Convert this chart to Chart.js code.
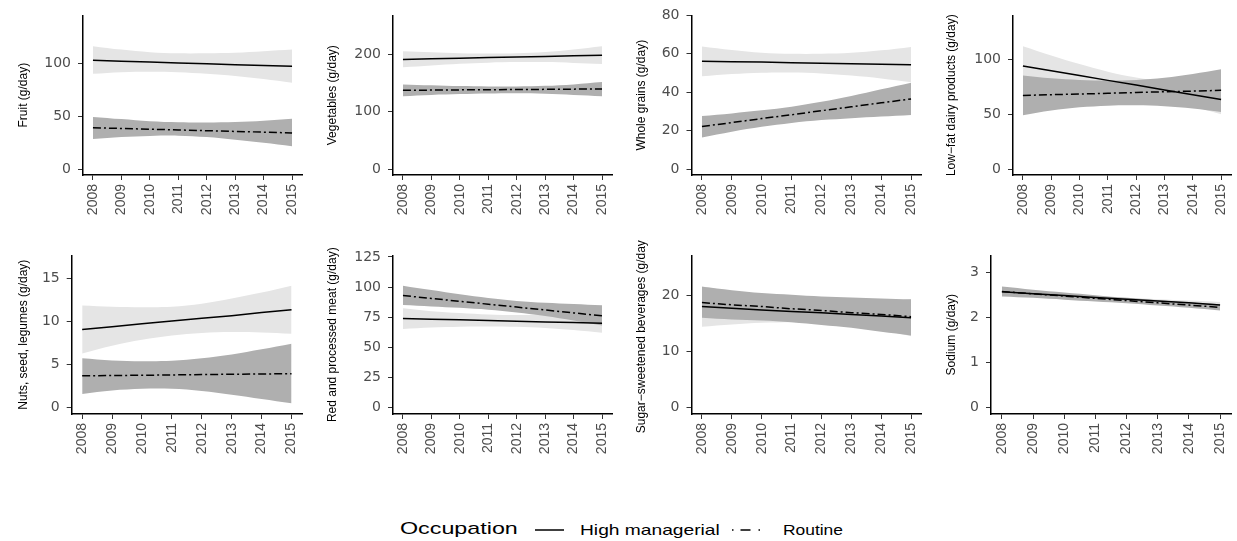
<!DOCTYPE html>
<html><head><meta charset="utf-8">
<script src="https://cdn.jsdelivr.net/npm/chart.js@4/dist/chart.umd.min.js"></script>
<style>
html,body{margin:0;padding:0;width:1237px;height:541px;overflow:hidden;background:#fff;position:relative}
canvas{position:absolute}
.lg{position:absolute;font-family:"Liberation Sans",Arial,sans-serif;color:#000;white-space:nowrap;transform-origin:0 50%;line-height:1}
svg{position:absolute}
</style></head><body>
<div class="lg" id="lgTitle" style="left:400px;top:520px;font-size:17px;transform:scaleX(1.37)">Occupation</div>
<svg style="left:534px;top:524px" width="32" height="12"><line x1="1" y1="6" x2="30" y2="6" stroke="#000" stroke-width="1.5"/></svg>
<div class="lg" style="left:580px;top:522px;font-size:15px;transform:scaleX(1.28)">High managerial</div>
<svg style="left:731px;top:524px" width="34" height="12"><line x1="1" y1="6" x2="33" y2="6" stroke="#000" stroke-width="1.5" stroke-dasharray="1.5 7 10 8 1.5 40"/></svg>
<div class="lg" style="left:783px;top:522px;font-size:15px;transform:scaleX(1.16)">Routine</div>
<script>
const years = [2008, 2009, 2010, 2011, 2012, 2013, 2014, 2015];

// Fruit
const fruitTicks = [0, 50, 100];
const fruitHigh = [103.3, 102.5, 101.7, 100.9, 100.0, 99.2, 98.4, 97.6];
const fruitHighLower = [90.5, 92, 92.5, 92, 90.5, 88.5, 85.5, 82];
const fruitHighUpper = [116.8, 113.5, 111, 110, 110, 110.5, 112, 113.6];
const fruitRoutine = [39.3, 38.6, 37.9, 37.2, 36.5, 35.8, 35.1, 34.4];
const fruitRoutineLower = [28.7, 30.5, 31.5, 31.8, 30.5, 28, 25, 21.8];
const fruitRoutineUpper = [49.6, 47.5, 45.5, 44.5, 44.3, 44.8, 46, 47.8];

// Vegetables
const vegTicks = [0, 100, 200];
const vegHigh = [191.6, 192.7, 193.7, 194.8, 195.8, 196.9, 197.9, 199];
const vegHighLower = [177.8, 181, 184, 186, 187, 187, 185.5, 183.6];
const vegHighUpper = [206, 204, 202.5, 202, 202.5, 204.5, 209, 214.6];
const vegRoutine = [137.7, 138, 138.4, 138.7, 139, 139.3, 139.7, 140];
const vegRoutineLower = [127.4, 129.5, 131, 132, 132.5, 131.5, 129.5, 127.4];
const vegRoutineUpper = [148, 146.5, 145, 144.5, 144.5, 145.5, 148, 152];

// Whole grains
const grainTicks = [0, 20, 40, 60, 80];
const grainHigh = [56.2, 55.9, 55.7, 55.4, 55.1, 54.8, 54.6, 54.3];
const grainHighLower = [48.3, 49.5, 50.2, 50.3, 49.8, 48.7, 47.2, 45.2];
const grainHighUpper = [63.8, 62, 60.6, 60, 60, 60.5, 61.8, 63.6];
const grainRoutine = [22.2, 24.2, 26.3, 28.3, 30.4, 32.4, 34.5, 36.5];
const grainRoutineLower = [16.5, 19.5, 22, 24, 25.5, 26.5, 27.4, 28.2];
const grainRoutineUpper = [27.6, 29, 30.6, 32.5, 35, 38, 41.5, 45];

// Low-fat dairy
const dairyTicks = [0, 50, 100];
const dairyHigh = [94.3, 89.9, 85.5, 81.1, 76.8, 72.4, 68, 63.7];
const dairyHighLower = [76.3, 75.9, 75, 73.1, 69.8, 64.4, 57.5, 50.2];
const dairyHighUpper = [112.3, 103.9, 96, 89.1, 83.8, 80.4, 78.5, 77.2];
const dairyRoutine = [67.3, 68, 68.6, 69.3, 70, 70.7, 71.3, 72];
const dairyRoutineLower = [49.3, 53.5, 56.5, 58, 58.3, 57.5, 55.5, 52.3];
const dairyRoutineUpper = [85.6, 83, 81.5, 81, 81.5, 83.5, 87, 91.3];

// Nuts, seed, legumes
const nutsTicks = [0, 5, 10, 15];
const nutsHigh = [9.1, 9.43, 9.76, 10.1, 10.4, 10.7, 11.07, 11.4];
const nutsHighLower = [6.3, 7.2, 7.9, 8.4, 8.7, 8.8, 8.75, 8.6];
const nutsHighUpper = [11.9, 11.75, 11.7, 11.75, 12.1, 12.7, 13.4, 14.2];
const nutsRoutine = [3.7, 3.74, 3.77, 3.81, 3.85, 3.89, 3.92, 3.96];
const nutsRoutineLower = [1.6, 2.0, 2.2, 2.2, 1.95, 1.5, 1.0, 0.5];
const nutsRoutineUpper = [5.75, 5.5, 5.4, 5.45, 5.75, 6.2, 6.8, 7.45];

// Red and processed meat
const meatTicks = [0, 25, 50, 75, 100, 125];
const meatHigh = [74, 73.4, 72.9, 72.3, 71.7, 71.1, 70.6, 70];
const meatHighLower = [65.3, 66.5, 67.2, 67.3, 67, 66, 64.3, 62.1];
const meatHighUpper = [82.4, 80, 78.5, 77.3, 76.8, 77, 77.8, 78.5];
const meatRoutine = [93, 90.6, 88.2, 85.8, 83.4, 81, 78.6, 76.2];
const meatRoutineLower = [85.2, 84, 82.8, 81.2, 79, 76, 72.3, 68.1];
const meatRoutineUpper = [101.2, 97.5, 94, 91, 88.5, 87, 86, 84.9];

// Sugar-sweetened beverages
const ssbTicks = [0, 10, 20];
const ssbHigh = [18, 17.7, 17.4, 17.1, 16.9, 16.6, 16.3, 16.0];
const ssbHighLower = [14.4, 14.8, 15.1, 15.2, 15.1, 14.6, 13.8, 12.7];
const ssbHighUpper = [21.6, 20.6, 19.7, 19.0, 18.7, 18.6, 18.8, 19.3];
const ssbRoutine = [18.7, 18.3, 18, 17.6, 17.3, 16.9, 16.6, 16.2];
const ssbRoutineLower = [16.0, 15.7, 15.5, 15.2, 14.7, 14.2, 13.5, 12.85];
const ssbRoutineUpper = [21.5, 20.9, 20.4, 20.1, 19.8, 19.6, 19.45, 19.3];

// Sodium
const sodiumTicks = [0, 1, 2, 3];
const sodiumHigh = [2.565, 2.52, 2.48, 2.44, 2.4, 2.36, 2.32, 2.275];
const sodiumHighLower = [2.50, 2.47, 2.44, 2.41, 2.37, 2.32, 2.27, 2.21];
const sodiumHighUpper = [2.63, 2.57, 2.52, 2.47, 2.43, 2.40, 2.37, 2.34];
const sodiumRoutine = [2.57, 2.52, 2.47, 2.42, 2.37, 2.32, 2.27, 2.22];
const sodiumRoutineLower = [2.46, 2.43, 2.39, 2.35, 2.31, 2.26, 2.21, 2.15];
const sodiumRoutineUpper = [2.68, 2.61, 2.55, 2.49, 2.43, 2.38, 2.33, 2.29];

const panels = [
  {title: 'Fruit (g/day)', ticks: fruitTicks, min: -5.6, max: 146, high: fruitHigh, highLower: fruitHighLower, highUpper: fruitHighUpper, routine: fruitRoutine, routineLower: fruitRoutineLower, routineUpper: fruitRoutineUpper, cx: 0, cy: 0, axisX: 83, right: 302},
  {title: 'Vegetables (g/day)', ticks: vegTicks, min: -10.3, max: 268.5, high: vegHigh, highLower: vegHighLower, highUpper: vegHighUpper, routine: vegRoutine, routineLower: vegRoutineLower, routineUpper: vegRoutineUpper, cx: 309, cy: 0, axisX: 393, right: 612},
  {title: 'Whole grains (g/day)', ticks: grainTicks, min: -3.07, max: 80, high: grainHigh, highLower: grainHighLower, highUpper: grainHighUpper, routine: grainRoutine, routineLower: grainRoutineLower, routineUpper: grainRoutineUpper, cx: 618, cy: 0, axisX: 691.5, right: 921.5},
  {title: 'Low\u2212fat dairy products (g/day)', ticks: dairyTicks, min: -5.4, max: 140.5, high: dairyHigh, highLower: dairyHighLower, highUpper: dairyHighUpper, routine: dairyRoutine, routineLower: dairyRoutineLower, routineUpper: dairyRoutineUpper, cx: 928, cy: 0, axisX: 1013, right: 1231},
  {title: 'Nuts, seed, legumes (g/day)', ticks: nutsTicks, min: -0.74, max: 17.73, high: nutsHigh, highLower: nutsHighLower, highUpper: nutsHighUpper, routine: nutsRoutine, routineLower: nutsRoutineLower, routineUpper: nutsRoutineUpper, cx: 0, cy: 240, axisX: 71.7, right: 302},
  {title: 'Red and processed meat (g/day)', ticks: meatTicks, min: -5.3, max: 126.3, high: meatHigh, highLower: meatHighLower, highUpper: meatHighUpper, routine: meatRoutine, routineLower: meatRoutineLower, routineUpper: meatRoutineUpper, cx: 309, cy: 240, axisX: 393, right: 612},
  {title: 'Sugar\u2212sweetened beverages (g/day)', ticks: ssbTicks, min: -1.13, max: 27.1, high: ssbHigh, highLower: ssbHighLower, highUpper: ssbHighUpper, routine: ssbRoutine, routineLower: ssbRoutineLower, routineUpper: ssbRoutineUpper, cx: 618, cy: 240, axisX: 691.5, right: 921.5},
  {title: 'Sodium (g/day)', ticks: sodiumTicks, min: -0.14, max: 3.37, high: sodiumHigh, highLower: sodiumHighLower, highUpper: sodiumHighUpper, routine: sodiumRoutine, routineLower: sodiumRoutineLower, routineUpper: sodiumRoutineUpper, cx: 928, cy: 240, axisX: 991, right: 1231}
];

const LIGHT = '#E5E5E5';
const DARK = '#AFAFAF';
const NONE = 'rgba(0,0,0,0)';

function pts(arr) { return years.map((x, i) => ({x: x, y: arr[i]})); }

function makePanel(p) {
  const c = document.createElement('canvas');
  const rowTop = p.cy === 0 ? 13 : 12;
  const h = p.cy === 0 ? 225 : 224;
  const w = Math.ceil(p.right - p.cx + 20);
  c.width = w; c.height = h;
  c.style.left = p.cx + 'px'; c.style.top = p.cy + 'px';
  c.style.width = w + 'px'; c.style.height = h + 'px';
  document.body.appendChild(c);
  const rightPad = w - (p.right - p.cx);
  const band = {borderWidth: 0, borderColor: NONE, pointRadius: 0, tension: 0.35};
  const gridOpts = {display: true, drawOnChartArea: false, drawTicks: true, tickLength: 5, color: '#333333', lineWidth: 1};
  const borderOpts = {display: true, color: '#000000', width: 1.5};
  new Chart(c, {
    type: 'line',
    data: {datasets: [
      {data: pts(p.high), borderColor: '#000', borderWidth: 1.5, pointRadius: 0, fill: false, tension: 0},
      {data: pts(p.routine), borderColor: '#000', borderWidth: 1.5, borderDash: [8, 3, 2, 3], pointRadius: 0, fill: false, tension: 0},
      Object.assign({data: pts(p.routineUpper), backgroundColor: DARK, fill: '+1'}, band),
      Object.assign({data: pts(p.routineLower), fill: false}, band),
      Object.assign({data: pts(p.highUpper), backgroundColor: LIGHT, fill: '+1'}, band),
      Object.assign({data: pts(p.highLower), fill: false}, band)
    ]},
    options: {
      responsive: false, animation: false, events: [],
      plugins: {legend: {display: false}, tooltip: {enabled: false}},
      layout: {padding: {top: rowTop, right: rightPad, bottom: 0, left: 0}},
      scales: {
        x: {
          type: 'linear', min: 2007.65, max: 2015.35,
          afterBuildTicks: s => { s.ticks = years.map(v => ({value: v})); },
          afterFit: s => { s.height = 50; },
          ticks: {autoSkip: false, minRotation: 90, maxRotation: 90, padding: 4, color: '#4D4D4D',
                  font: {family: '"Liberation Sans", Arial, sans-serif', size: 14}, callback: v => String(v)},
          grid: gridOpts, border: borderOpts
        },
        y: {
          type: 'linear', min: p.min, max: p.max,
          afterBuildTicks: s => { s.ticks = p.ticks.map(v => ({value: v})); },
          afterFit: s => { s.width = p.axisX - p.cx; },
          ticks: {autoSkip: false, padding: 7, color: '#4D4D4D',
                  font: {family: '"DejaVu Sans", sans-serif', size: 14}, callback: v => String(v)},
          grid: gridOpts, border: borderOpts,
          title: {display: true, text: p.title, color: '#000',
                  font: {family: '"Liberation Sans", Arial, sans-serif', size: 12},
                  padding: {top: 16, bottom: 0}}
        }
      }
    }
  });
}
panels.forEach(makePanel);
</script>
</body></html>
